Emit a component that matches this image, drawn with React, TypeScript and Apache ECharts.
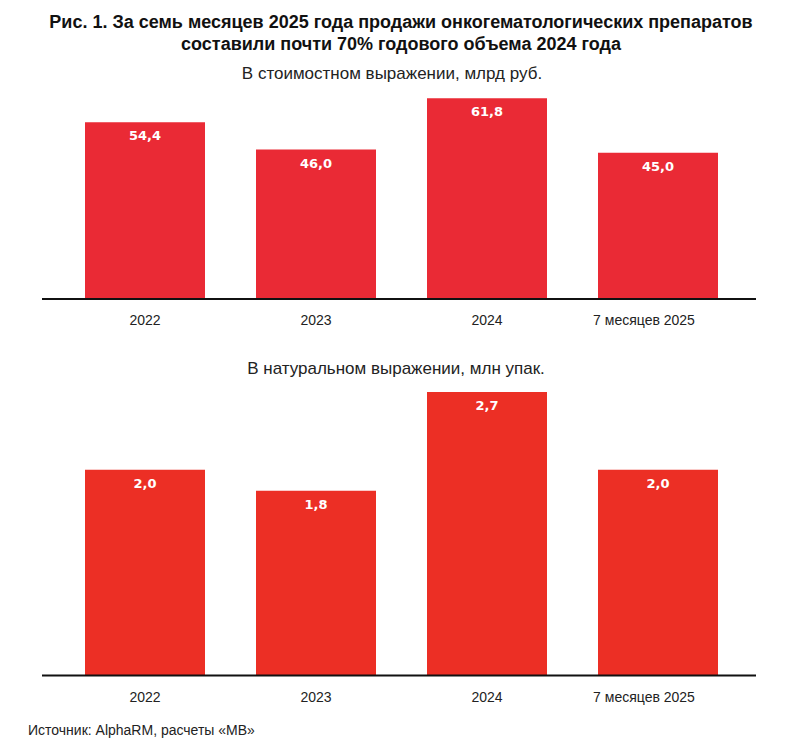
import React, { useEffect, useRef } from "react";
import * as echarts from "echarts";

const titleLines = [
  "Рис. 1. За семь месяцев 2025 года продажи онкогематологических препаратов",
  "составили почти 70% годового объема 2024 года",
];
const subtitleRub = "В стоимостном выражении, млрд руб.";
const subtitlePacks = "В натуральном выражении, млн упак.";
const sourceText = "Источник: AlphaRM, расчеты «МВ»";

const categories = ["2022", "2023", "2024", "7 месяцев 2025"];
const valuesRub = [54.4, 46.0, 61.8, 45.0];
const valuesPacks = [1.96, 1.76, 2.7, 1.96];

const fmt = (v: number) => v.toFixed(1).replace(".", ",");

export default function App() {
  const ref = useRef<HTMLDivElement>(null);
  useEffect(() => {
    document.body.style.margin = "0";
    if (!ref.current) return;
    const chart = echarts.init(ref.current, null, { renderer: "svg" });
    const labelFont = "'Liberation Sans', Arial, sans-serif";
    const barLabel = {
      show: true,
      position: "insideTop" as const,
      distance: 7,
      color: "#ffffff",
      fontFamily: "'DejaVu Sans', sans-serif",
      fontWeight: "bold" as const,
      fontSize: 13,
      formatter: (p: any) => fmt(p.value),
    };
    const xAxisCommon = {
      type: "category" as const,
      data: categories,
      axisLine: { show: false },
      axisTick: { show: false },
      axisLabel: {
        color: "#222",
        fontFamily: labelFont,
        fontSize: 14,
        margin: 14,
        formatter: (v: string) =>
          v === categories[categories.length - 1] ? `{s|${v}}` : v,
        rich: {
          s: {
            color: "#222",
            fontFamily: labelFont,
            fontSize: 14,
            padding: [0, 28, 0, 0],
          },
        },
      },
    };
    const txt = (
      text: string,
      x: number,
      y: number,
      size: number,
      weight: string,
      align: string,
      color: string
    ) => ({
      type: "text",
      x,
      y,
      style: {
        text,
        fill: color,
        font: `${weight} ${size}px 'Liberation Sans', Arial, sans-serif`,
        textAlign: align,
        textVerticalAlign: "middle",
      },
      z: 20,
    });
    chart.setOption({
      animation: false,
      backgroundColor: "#ffffff",
      grid: [
        { left: 59.5, right: 58.5, top: 71.5, height: 227.5 },
        { left: 59.5, right: 58.5, top: 360.5, height: 315 },
      ],
      xAxis: [
        { ...xAxisCommon, gridIndex: 0 },
        { ...xAxisCommon, gridIndex: 1 },
      ],
      yAxis: [
        { type: "value", gridIndex: 0, min: 0, max: 70, show: false },
        { type: "value", gridIndex: 1, min: 0, max: 3, show: false },
      ],
      series: [
        {
          type: "bar",
          xAxisIndex: 0,
          yAxisIndex: 0,
          data: valuesRub,
          barWidth: 120,
          itemStyle: { color: "#EA2A35" },
          label: barLabel,
        },
        {
          type: "bar",
          xAxisIndex: 1,
          yAxisIndex: 1,
          data: valuesPacks,
          barWidth: 120,
          itemStyle: { color: "#EC2F25" },
          label: barLabel,
        },
      ],
      graphic: [
        txt(titleLines[0], 401, 22, 18, "bold", "center", "#111"),
        txt(titleLines[1], 401, 44, 18, "bold", "center", "#111"),
        txt(subtitleRub, 392, 73, 17, "normal", "center", "#222"),
        txt(subtitlePacks, 396, 368, 17, "normal", "center", "#222"),
        txt(sourceText, 28, 730, 14, "normal", "left", "#222"),
        {
          type: "line",
          shape: { x1: 42, y1: 299, x2: 756, y2: 299 },
          style: { stroke: "#111", lineWidth: 2 },
          z: 10,
        },
        {
          type: "line",
          shape: { x1: 42, y1: 675.5, x2: 756, y2: 675.5 },
          style: { stroke: "#111", lineWidth: 2 },
          z: 10,
        },
      ],
    });
    return () => chart.dispose();
  }, []);
  return <div ref={ref} style={{ width: 802, height: 746 }} />;
}
